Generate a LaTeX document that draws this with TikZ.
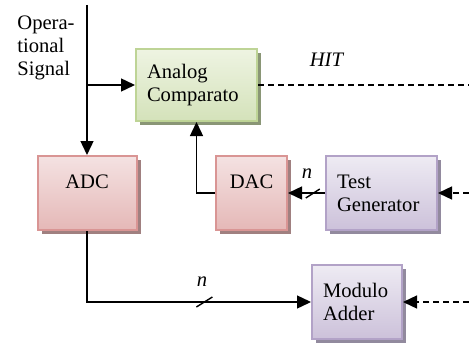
\documentclass[tikz,border=0pt]{standalone}
\usepackage{fontspec}
\setmainfont{Liberation Serif}
\usetikzlibrary{arrows.meta, shapes, shadows}

\definecolor{cmpline}{RGB}{190,212,150}
\definecolor{cmptop}{RGB}{238,244,226}
\definecolor{cmpbot}{RGB}{212,226,186}
\definecolor{cmpshade}{RGB}{138,150,118}
\definecolor{convline}{RGB}{217,149,148}
\definecolor{convtop}{RGB}{244,226,226}
\definecolor{convbot}{RGB}{229,184,183}
\definecolor{convshade}{RGB}{160,128,128}
\definecolor{genline}{RGB}{178,162,199}
\definecolor{gentop}{RGB}{238,235,243}
\definecolor{genbot}{RGB}{204,193,218}
\definecolor{genshade}{RGB}{146,138,158}

\tikzstyle{block} = [rectangle, line width=1pt, inner xsep=5.5pt, minimum height=37pt, font=\fontsize{10.3}{11.5}\selectfont]
\tikzstyle{comparator} = [block, draw=cmpline, top color=cmptop, bottom color=cmpbot, drop shadow={shadow xshift=2pt, shadow yshift=-2pt, fill=cmpshade, opacity=1}]
\tikzstyle{converter} = [block, draw=convline, top color=convtop, bottom color=convbot, align=center, drop shadow={shadow xshift=2pt, shadow yshift=-2pt, fill=convshade, opacity=1}]
\tikzstyle{generator} = [block, draw=genline, top color=gentop, bottom color=genbot, drop shadow={shadow xshift=2pt, shadow yshift=-2pt, fill=genshade, opacity=1}]
\tikzstyle{arrow} = [line width=0.7pt, -{Triangle[length=7pt,width=6.5pt]}]
\tikzstyle{signal} = [line width=0.7pt, dash pattern=on 3pt off 2pt]
\tikzstyle{lbl} = [font=\fontsize{10.3}{11.5}\selectfont]

\begin{document}
\begin{tikzpicture}[x=0.5pt, y=-0.5pt]
\useasboundingbox (0,0) rectangle (469,347);

\node at (17, 47.5) (opsig) [lbl, anchor=west, align=left, inner sep=0pt] {Opera-\\tional\\Signal};
\coordinate (sig) at (87, 5);

\node at (196.5, 85) (cmp) [comparator, minimum width=60.5pt, minimum height=36pt, text width=49.5pt, align=left] {Analog\\Comparato};

\node at (87, 193) (adc) [converter, minimum width=49.5pt] {ADC\\~};
\node at (251.5, 193) (dac) [converter, minimum width=35.5pt] {DAC\\~};
\node at (381.5, 193) (tg) [generator, minimum width=55.5pt, text width=44.5pt, align=left] {Test\\Generator};
\node at (357, 302) (add) [generator, minimum width=45pt, text width=34pt, align=left] {Modulo\\Adder};

\coordinate (hitout) at (469, 85);
\coordinate (tgin) at (469, 193);
\coordinate (addin) at (469, 302);

% operational signal into converter and comparator
\draw [arrow] (sig) -- (adc.north);
\draw [arrow] (sig |- cmp.west) -- (cmp.west);

% comparator output
\draw [signal] (cmp.east) -- (hitout);
\node at (327, 60) (hit) [lbl] {\textit{HIT}};

% test path
\draw [arrow, signal] (tgin) -- (tg.east);
\draw [arrow] (tg.west) -- (dac.east) coordinate [pos=0.33] (bus1);
\draw [line width=0.7pt] (bus1) ++(-7,5) -- ++(14,-9);
\node at (307, 174) (n1) [lbl] {\textit{n}};
\draw [arrow] (dac.west) -| (cmp.south);

% converter output to adder
\draw [arrow] (adc.south) |- (add.west) coordinate [pos=0.762] (bus2);
\draw [line width=0.7pt] (bus2) ++(-8,5) -- ++(16,-10);
\node at (202, 282) (n2) [lbl] {\textit{n}};
\draw [arrow, signal] (addin) -- (add.east);

\end{tikzpicture}
\end{document}
